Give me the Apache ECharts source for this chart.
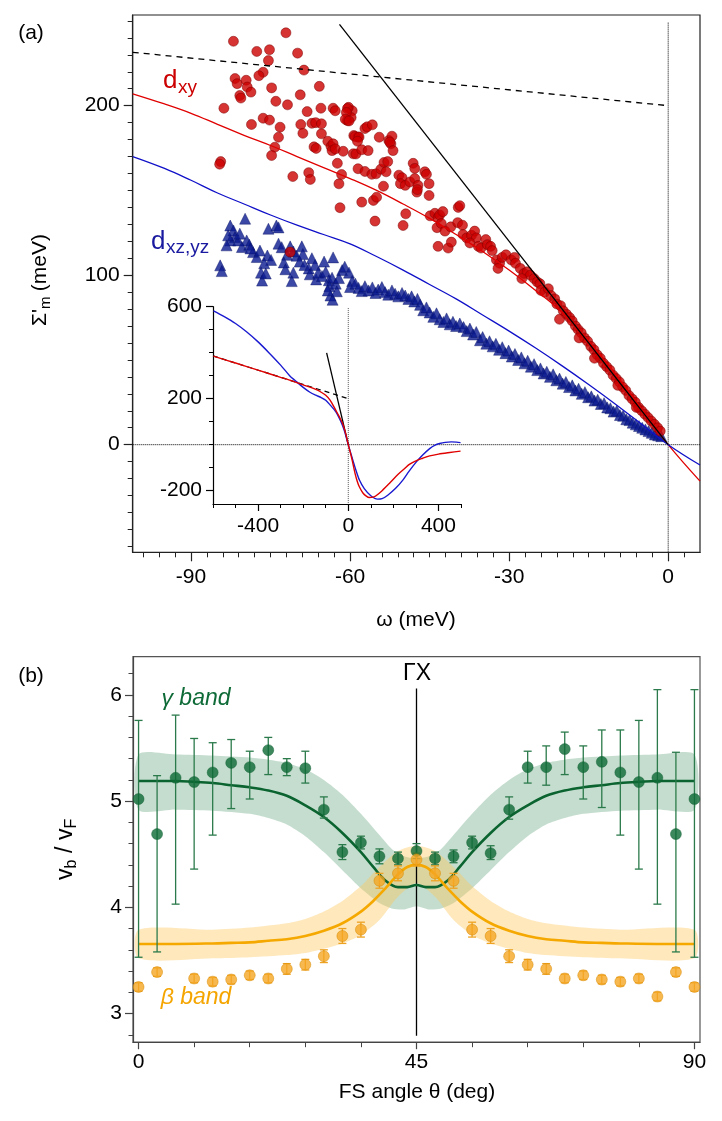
<!DOCTYPE html>
<html>
<head>
<meta charset="utf-8">
<script src="https://cdn.jsdelivr.net/npm/echarts@6/dist/echarts.min.js"></script>
<style>
html, body { margin: 0; padding: 0; background: #fff; }
#chart { width: 722px; height: 1121px; }
</style>
</head>
<body>
<div id="chart"></div>
<script>
// ---------- panel (a): self-energy vs omega ----------
var dxyPoints = [
  [-82.0,238],[-72.1,243],[-77.6,232],[-75.2,233],[-69.9,231],[-75.4,226.6],[-68.7,221],[-76.4,219.7],[-77.2,217.7],
  [-81.7,216],[-81.3,213],[-79.6,215],[-79.4,211],[-78.7,208],[-80.8,206],[-80.6,204.5],
  [-74.8,210.5],[-69.4,206.4],[-74.0,202.6],[-71.8,200.5],[-83.8,198.5],[-65.8,211.4],[-65.5,198.5],[-68.1,196.5],
  [-63.2,198.5],[-62.8,197],[-60.3,199],[-59.6,197],[-76.4,192.6],[-75.2,191.5],[-78.6,188.9],[-73.2,187.3],
  [-69.3,188.9],[-67.2,189.6],[-66.5,190],[-65.4,189.3],[-60.5,191.2],[-59.8,193],[-68.9,183.7],[-65.4,183.4],
  [-73.5,181.4],[-64.2,179],[-63.6,176],[-63.2,177.5],[-63.4,173.5],[-62.8,174.5],[-59.3,182.4],[-58.5,181.5],
  [-74.2,175.5],[-74.8,170.6],[-66.8,175.7],[-66.4,174.8],[-61.3,173.1],[-59.4,171.6],[-84.4,167],[-84.6,165.5],
  [-62.4,166],[-58.5,162.8],[-67.8,160.5],[-67.5,156.5],[-70.8,158.2],[-61.6,159.4],[-62.1,153.9],[-61.9,139.8],
  [-71.3,113.6],
  [-60.5,198.3],[-60.7,196],[-60.9,192],[-60.2,191],[-59.1,181.8],[-58.3,181.5],[-58.6,179],[-57.2,186.5],
  [-56.8,187.5],[-55.8,188.7],[-58.9,171.5],[-57.8,174],[-56.6,173.5],[-54.5,181.4],[-52.7,179.5],[-52.3,177.5],
  [-52.1,182],[-52.5,178.5],[-51.9,173.5],[-57.2,161.2],[-55.9,159.5],[-55.1,159.8],[-54.2,162.5],[-53.6,166.5],
  [-52.9,167],[-53.2,161],[-53.7,152.5],[-57.8,143.1],[-55.6,144.1],[-55.0,146],[-55.3,131.9],
  [-50.8,159],[-50.2,157.5],[-50.5,154],[-49.6,153],[-48.7,155],[-47.8,157],[-47.2,153],[-47.4,149],[-47.3,150.5],
  [-48.1,166],[-47.8,163],[-45.9,161],[-45.6,159.5],[-45.1,154],[-45.1,147],[-49.5,136.2],[-50.0,129.3],
  [-44.9,135],[-44.0,136.5],[-43.4,134],[-43.1,135.5],[-42.5,137.5],[-43.6,128],[-42.8,130.5],[-42.1,126],
  [-41.0,128.5],[-39.7,131],[-38.8,129.5],[-39.6,140],[-39.3,141],[-43.4,117],[-41.5,116],[-40.9,119.5],
  [-38.7,124],[-38.0,122],[-37.1,123.5],[-36.5,126],[-36.2,122],[-37.4,119],[-35.8,117],[-35.3,116],
  [-34.4,121],[-34.1,118],[-33.5,117],[-33.2,114.5],[-32.4,109],[-31.8,107],[-31.3,110.5],[-30.6,112],
  [-29.6,109],[-29.0,110.5],[-28.8,107],[-32.1,104],[-27.9,104],[-27.2,101],[-26.6,102],[-26.0,100],
  [-27.6,98],[-25.3,98],[-24.7,96],[-24.2,95],[-24.0,91],[-23.3,90],
  [-22.6,92],[-22.1,88],[-21.4,86],[-21.0,83],[-20.3,82],[-19.8,79],[-19.2,77],[-18.6,75],[-18.1,73],
  [-17.5,70],[-17.0,68],[-16.4,66],[-15.8,63],[-15.2,61],[-14.6,58],[-14.0,56],[-13.4,53],[-12.8,51],
  [-12.2,48],[-11.6,46],[-11.0,44],[-10.4,41],[-9.8,39],[-9.2,37],[-8.6,34],[-8.0,32],[-7.4,29],[-6.8,27],
  [-6.2,25],[-5.6,22],[-5.0,20],[-4.4,18],[-3.8,16],[-3.2,14],[-2.6,12],[-2.0,10],[-1.5,8],
  [-20.5,74],[-16.8,63],[-13.9,51],[-9.5,35],[-6.0,22]
];
var dxzPoints = [
  [-79.8,133.3],[-82.6,129.3],[-82.0,126.4],[-81.7,122.5],[-82.6,120.5],[-81.1,120.5],[-79.5,120.5],[-80.4,116.6],
  [-83.3,117.6],[-78.3,113.6],[-77.6,110.7],[-84.5,105.8],[-84.2,102.4],[-80.8,124.5],[-83.0,123.5],[-79.0,118],
  [-78.8,115.8],[-77.0,114.5],[-75.4,127.4],[-73.9,129.3],[-73.5,128.2],[-73.5,118.6],[-72.9,116.5],[-75.6,111.6],
  [-74.9,109],[-76.2,107],[-76.8,101.5],[-76.6,96.8],[-75.9,101],[-71.3,117],[-70.7,114],[-71.9,112],[-72.5,107.5],
  [-72.2,103.5],[-70.7,101.5],[-71.0,96.5],[-70.1,111.5],[-69.1,117],[-68.9,112.5],[-69.5,108],[-68.6,106],
  [-67.8,104],[-67.2,110],[-66.6,106],[-67.6,100.5],[-66.4,97.5],[-66.0,101.5],[-65.3,99.5],[-64.6,102],[-64.0,97],
  [-63.4,98.5],[-63.9,93.5],[-62.7,95],[-62.1,98.3],[-61.5,103],[-61.0,105],[-60.2,101.5],[-59.6,96.5],[-60.0,93],
  [-64.9,108],[-63.2,110.5],[-63.7,88],[-63.3,85.5],[-64.2,91],[-62.5,90.5],
  [-59.0,95],[-58.4,92.5],[-57.8,90.6],[-57.2,93.5],[-56.5,91],[-55.8,92.8],[-55.2,89.5],[-54.7,91.5],[-54.0,93],
  [-53.4,90],[-52.8,88.5],[-52.1,91],[-51.5,89],[-50.9,87.5],[-50.2,89.5],[-49.6,88],[-49.0,86],[-48.4,87.5],
  [-47.9,84.5],[-47.3,86],[-46.8,82.5],[-46.2,79.3],[-45.6,81],[-45.0,78],[-44.3,75.4],[-43.7,77.5],[-43.1,74],
  [-42.4,72.4],[-41.8,74.5],[-41.2,71],[-40.6,72.5],[-40.0,70],[-39.3,71.5],[-38.6,69.4],[-38.0,67],[-37.4,68.5],
  [-36.8,65],[-36.2,66.5],[-35.5,61.6],[-35.0,63.5],[-34.3,59.6],[-33.7,61],[-33.1,58],[-32.5,59.5],[-31.9,56],
  [-31.3,57.5],[-30.7,54],[-30.1,55.5],[-29.5,52],[-28.9,53.5],[-28.3,50],[-27.7,51.5],[-27.1,48],[-26.5,49.5],
  [-25.9,46],[-25.3,47.5],[-24.7,44],[-24.1,45],[-23.5,42],[-22.9,43],[-22.3,40],[-21.7,41.5],[-21.1,38],
  [-20.5,39],[-19.9,36],[-19.3,37],[-18.7,34],[-18.1,35],[-17.5,32],[-16.9,33],[-16.3,30],[-15.7,31],[-15.1,28],
  [-14.5,28.5],[-13.9,26],[-13.3,26.5],[-12.7,24],[-12.1,24.5],[-11.5,22],[-10.9,21.5],[-10.3,19.5],[-9.7,20],
  [-9.1,17.5],[-8.5,17],[-7.9,15],[-7.3,14.5],[-6.7,13],[-6.1,12],[-5.5,11],[-4.9,10],[-4.3,9],[-3.7,8],
  [-3.1,7],[-2.5,6],[-1.9,5.5],[-1.3,5]
];
var dxyFit = [[-101,207],[-95,201],[-90,195.5],[-85,189],[-80,182.5],[-75,176.5],[-70,170],[-65,163.5],[-60,157],
  [-55,150],[-50,142],[-45,133.5],[-40,124],[-35,114],[-30,103],[-25,91],[-20,78],[-15,61],[-10,42],[-5,21],[0,0],[6,-21.5]];
var dxzFit = [[-101,170],[-95,163],[-90,156],[-85,148.5],[-80,142],[-75,135.5],[-70,129.5],[-65,124],[-60,118.5],
  [-55,111],[-50,103],[-45,94.5],[-40,86],[-35,76.5],[-30,67],[-25,57],[-20,46.5],[-15,35.5],[-10,24],[-5,12],[0,0],[6,-12]];
var linearLine = [[-62,248],[0,0]];
var dashedLine = [[-101,231.5],[0,200]];
var zeroH = [[-101,0],[6,0]];
var zeroV = [[0,249],[0,-63.5]];

// inset
var insetRed = [[-598,385],[-500,355],[-400,324],[-300,293],[-237,273],[-200,260],[-170,250],[-144,240],[-120,228],
  [-100,215],[-80,193],[-55,149],[-40,122],[-25,92],[-12,50],[0,0],[10,-38],[19,-75],[30,-125],[40,-160],[49,-183],
  [65,-210],[80,-224],[93,-230],[110,-228],[123,-222],[150,-200],[182,-169],[220,-130],[250,-104],[271,-86],
  [300,-70],[330,-59],[361,-49],[400,-41],[450,-34],[498,-28]];
var insetBlue = [[-598,582],[-550,557],[-500,527],[-450,490],[-400,447],[-350,398],[-300,346],[-260,300],[-237,280],
  [-200,249],[-170,228],[-144,215],[-120,205],[-100,193],[-80,172],[-55,143],[-35,105],[-18,63],[0,0],[15,-50],
  [34,-111],[50,-155],[71,-191],[100,-222],[130,-237],[150,-235],[175,-220],[210,-190],[242,-154],[270,-115],
  [302,-75],[330,-45],[361,-17],[385,-2],[405,5],[430,10],[457,12],[480,11],[498,9]];
var insetLinear = [[-96,399],[0,0]];
var insetDashed = [[-600,386],[0,200]];
var insetZeroV = [[0,594],[0,-258]];

// ---------- panel (b): velocity ratio vs FS angle ----------
var gammaAngles = [0,3,6,9,12,15,18,21,24,27,30,33,36,39,42,45,48,51,54,57,60,63,66,69,72,75,78,81,84,87,90];
var gammaVals = [5.02,4.69,5.22,5.18,5.27,5.36,5.32,5.48,5.32,5.31,4.92,4.52,4.61,4.48,4.46,4.53,4.46,4.48,4.61,4.51,
  4.92,5.32,5.32,5.49,5.32,5.37,5.27,5.18,5.22,4.69,5.02];
var gammaLow = [3.53,3.58,4.03,4.36,4.68,4.93,5.02,5.25,5.24,5.17,4.84,4.45,4.55,4.41,4.40,4.46,4.40,4.42,4.55,4.45,
  4.83,5.17,5.15,5.25,5.02,4.94,4.68,4.36,4.03,3.58,3.53];
var gammaHigh = [5.76,5.24,5.81,5.59,5.55,5.58,5.47,5.60,5.40,5.47,5.04,4.59,4.67,4.55,4.52,4.60,4.52,4.54,4.67,4.58,
  5.04,5.47,5.52,5.65,5.52,5.67,5.67,5.76,6.05,5.46,6.05];

var betaAngles = [0,3,9,12,15,18,21,24,27,30,33,36,39,42,45,48,51,54,57,60,63,66,69,72,75,78,81,84,87,90];
var betaVals = [3.25,3.39,3.33,3.30,3.32,3.36,3.33,3.42,3.46,3.54,3.73,3.79,4.25,4.32,4.45,4.32,4.25,3.79,3.73,3.54,
  3.46,3.42,3.33,3.36,3.32,3.30,3.33,3.16,3.39,3.25];
var betaErr = [0.04,0.04,0.04,0.04,0.04,0.04,0.04,0.05,0.05,0.06,0.07,0.07,0.07,0.07,0.06,0.07,0.07,0.07,0.07,0.06,
  0.05,0.05,0.04,0.04,0.04,0.04,0.04,0.04,0.04,0.04];

var gammaFit = [[0,5.19],[6,5.19],[12,5.17],[15,5.15],[18,5.13],[21,5.10],[24,5.05],[27,4.96],[30,4.85],[33,4.70],
  [36,4.52],[38,4.38],[40,4.25],[42,4.19],[43.5,4.19],[45,4.21],[46.5,4.19],[48,4.19],[50,4.25],[52,4.38],[54,4.52],
  [57,4.70],[60,4.85],[63,4.96],[66,5.05],[69,5.10],[72,5.13],[75,5.15],[78,5.17],[84,5.19],[90,5.19]];
var betaFit = [[0,3.655],[6,3.655],[12,3.66],[15,3.665],[18,3.67],[21,3.685],[24,3.70],[27,3.73],[30,3.78],[33,3.85],
  [36,3.96],[38,4.06],[40,4.18],[42,4.31],[43.5,4.38],[45,4.40],[46.5,4.38],[48,4.31],[50,4.18],[52,4.06],[54,3.96],
  [57,3.85],[60,3.78],[63,3.73],[66,3.70],[69,3.685],[72,3.67],[75,3.665],[78,3.66],[84,3.655],[90,3.655]];

var gammaBandAngles = [0,6,12,18,21,24,27,30,33,36,39,41,43,45,47,49,51,54,57,60,63,66,69,72,78,84,90];
var gammaBandHigh = [5.44,5.44,5.43,5.41,5.39,5.36,5.30,5.20,5.06,4.88,4.68,4.55,4.48,4.46,4.48,4.55,4.68,4.88,5.06,
  5.20,5.30,5.36,5.39,5.41,5.43,5.44,5.44];
var gammaBandLow = [4.92,4.92,4.91,4.88,4.84,4.78,4.67,4.52,4.35,4.18,4.04,3.99,3.98,4.01,3.98,3.99,4.04,4.18,4.35,
  4.52,4.67,4.78,4.84,4.88,4.91,4.92,4.92];
var betaBandAngles = [0,12,18,24,27,30,33,36,39,42,45,48,51,54,57,60,63,66,72,78,90];
var betaBandHigh = [3.79,3.79,3.81,3.85,3.89,3.96,4.06,4.20,4.38,4.53,4.58,4.53,4.38,4.20,4.06,3.96,3.89,3.85,3.81,3.79,3.79];
var betaBandLow = [3.52,3.52,3.53,3.55,3.57,3.61,3.66,3.74,3.88,4.10,4.23,4.10,3.88,3.74,3.66,3.61,3.57,3.55,3.53,3.52,3.52];
var gammaXLine = [[45,2.79],[45,6.06]];

// tick values
var aMajorX = [-90,-60,-30,0];
var aMajorY = [0,100,200];
var insetMajorX = [-400,0,400];
var insetMajorY = [-200,200,600];
var bMajorX = [0,45,90];
var bMajorY = [3,4,5,6];

function range(a, b, step) {
  var out = [];
  for (var v = a; v <= b + step / 1000; v += step) out.push(Math.round(v * 1000) / 1000);
  return out;
}

var FONT = '"Liberation Sans", Arial, Helvetica, sans-serif';

function majorAxis(grid, pos, min, max, ticks, len, margin, color) {
  return {
    type: 'value', gridIndex: grid, position: pos, min: min, max: max,
    axisLine: { show: true, onZero: false, lineStyle: { color: color, width: 1.2 } },
    axisTick: { show: true, customValues: ticks, length: len, lineStyle: { color: color, width: 1.2 } },
    axisLabel: { show: true, customValues: ticks, margin: margin, fontSize: 21, fontFamily: FONT, color: '#000' },
    splitLine: { show: false }
  };
}
function minorAxis(grid, pos, min, max, ticks, len, color) {
  return {
    type: 'value', gridIndex: grid, position: pos, min: min, max: max,
    axisLine: { show: false, onZero: false },
    axisTick: { show: true, customValues: ticks, length: len, lineStyle: { color: color, width: 1 } },
    axisLabel: { show: false },
    splitLine: { show: false }
  };
}
function lineSeries(data, xi, color, width, type, z, smooth) {
  return {
    type: 'line', xAxisIndex: xi, yAxisIndex: xi, data: data, showSymbol: false, symbol: 'none',
    smooth: smooth || false, silent: true, z: z || 3,
    lineStyle: { color: color, width: width, type: type || 'solid' }
  };
}
function bandSeries(xs, lows, highs, fill) {
  return {
    type: 'custom', xAxisIndex: 4, yAxisIndex: 4, silent: true, z: 1,
    data: xs.map(function (x, i) { return [x, lows[i], highs[i]]; }),
    renderItem: function (params, api) {
      if (params.dataIndex !== 0) return null;
      var pts = [];
      for (var i = 0; i < xs.length; i++) pts.push(api.coord([xs[i], highs[i]]));
      for (var j = xs.length - 1; j >= 0; j--) pts.push(api.coord([xs[j], lows[j]]));
      return { type: 'polygon', shape: { points: pts, smooth: 0.25 }, style: { fill: fill } };
    }
  };
}
function errorSeries(xs, lows, highs, color) {
  return {
    type: 'custom', xAxisIndex: 4, yAxisIndex: 4, silent: true, z: 4,
    data: xs.map(function (x, i) { return [x, lows[i], highs[i]]; }),
    renderItem: function (params, api) {
      var lo = api.coord([api.value(0), api.value(1)]);
      var hi = api.coord([api.value(0), api.value(2)]);
      var w = 4;
      var st = { stroke: color, lineWidth: 1.3 };
      return { type: 'group', children: [
        { type: 'line', shape: { x1: lo[0], y1: lo[1], x2: hi[0], y2: hi[1] }, style: st },
        { type: 'line', shape: { x1: lo[0] - w, y1: lo[1], x2: lo[0] + w, y2: lo[1] }, style: st },
        { type: 'line', shape: { x1: hi[0] - w, y1: hi[1], x2: hi[0] + w, y2: hi[1] }, style: st }
      ] };
    }
  };
}
function txt(x, y, text, size, color, align, italic) {
  return {
    type: 'text', x: x, y: y, silent: true,
    style: {
      text: text, fontSize: size, fontFamily: FONT, fontStyle: italic ? 'italic' : 'normal', fill: color,
      textAlign: align || 'center', align: align || 'center', textVerticalAlign: 'middle', verticalAlign: 'middle'
    }
  };
}

var chart = echarts.init(document.getElementById('chart'), null, { renderer: 'canvas' });

var option = {
  animation: false,
  backgroundColor: '#fff',
  grid: [
    { left: 132.7, top: 15, width: 567.3, height: 537.3, show: true, borderColor: '#222', borderWidth: 1.2, backgroundColor: 'transparent' },
    { left: 213, top: 306.7, width: 248, height: 197.3, show: false },
    { left: 133, top: 656.7, width: 567, height: 385.5, show: true, borderColor: '#555', borderWidth: 1.2, backgroundColor: 'transparent' }
  ],
  xAxis: [
    majorAxis(0, 'bottom', -101, 6, aMajorX, 9, 14, '#222'),
    minorAxis(0, 'bottom', -101, 6, range(-99, 3, 3), 5, '#222'),
    majorAxis(1, 'bottom', -600, 500, insetMajorX, 7, 12, '#000'),
    minorAxis(1, 'bottom', -600, 500, range(-600, 500, 100), 4, '#000'),
    majorAxis(2, 'bottom', -0.9, 90.9, bMajorX, 7, 10, '#444'),
    minorAxis(2, 'bottom', -0.9, 90.9, range(0, 90, 9), 5, '#444')
  ],
  yAxis: [
    majorAxis(0, 'left', -63.5, 253.5, aMajorY, 9, 13, '#222'),
    minorAxis(0, 'left', -63.5, 253.5, range(-60, 250, 10), 5, '#222'),
    majorAxis(1, 'left', -258, 600, insetMajorY, 7, 11, '#000'),
    minorAxis(1, 'left', -258, 600, range(-200, 600, 100), 4, '#000'),
    majorAxis(2, 'left', 2.73, 6.36, bMajorY, 8, 11, '#444'),
    minorAxis(2, 'left', 2.73, 6.36, range(2.8, 6.2, 0.2), 4.5, '#444')
  ],
  series: [
    // panel (a)
    lineSeries(zeroH, 0, '#000', 1, 'dotted', 2),
    lineSeries(zeroV, 0, '#000', 1, 'dotted', 2),
    {
      type: 'scatter', xAxisIndex: 0, yAxisIndex: 0, data: dxzPoints, symbol: 'triangle', symbolSize: 11,
      itemStyle: { color: '#0b1a90', borderColor: '#06105e', borderWidth: 0.5 }, z: 3, silent: true
    },
    {
      type: 'scatter', xAxisIndex: 0, yAxisIndex: 0, data: dxyPoints, symbol: 'circle', symbolSize: 10,
      itemStyle: { color: '#cc0000', borderColor: '#7a0000', borderWidth: 0.6 }, z: 3, silent: true
    },
    lineSeries(dxyFit, 0, '#e00000', 1.3, 'solid', 4, 0.4),
    lineSeries(dxzFit, 0, '#1010c8', 1.3, 'solid', 4, 0.4),
    lineSeries(linearLine, 0, '#000', 1.3, 'solid', 4),
    lineSeries(dashedLine, 0, '#000', 1.3, [6, 5], 4),
    // inset
    lineSeries(insetZeroV, 2, '#555', 1, 'dotted', 2),
    lineSeries(insetDashed, 2, '#000', 1.2, [5, 4], 3),
    lineSeries(insetLinear, 2, '#000', 1.3, 'solid', 3),
    lineSeries(insetBlue, 2, '#1a1ad0', 1.4, 'solid', 4, 0.3),
    lineSeries(insetRed, 2, '#e00000', 1.4, 'solid', 4, 0.3),
    // panel (b)
    bandSeries(gammaBandAngles, gammaBandLow, gammaBandHigh, 'rgba(115,175,138,0.42)'),
    bandSeries(betaBandAngles, betaBandLow, betaBandHigh, 'rgba(252,200,95,0.42)'),
    lineSeries(gammaXLine, 4, '#000', 1.3, 'solid', 2),
    lineSeries(gammaFit, 4, '#0b6430', 2.6, 'solid', 3, 0.35),
    lineSeries(betaFit, 4, '#f5a800', 2.6, 'solid', 3, 0.35),
    errorSeries(gammaAngles, gammaLow, gammaHigh, '#2b7a4b'),
    errorSeries(betaAngles, betaVals.map(function (v, i) { return v - betaErr[i]; }),
      betaVals.map(function (v, i) { return v + betaErr[i]; }), '#eea221'),
    {
      type: 'scatter', xAxisIndex: 4, yAxisIndex: 4, symbol: 'circle', symbolSize: 11, silent: true, z: 5,
      data: gammaAngles.map(function (a, i) { return [a, gammaVals[i]]; }),
      itemStyle: { color: '#0e6a36', borderColor: '#0a5a2c', borderWidth: 0.5 }
    },
    {
      type: 'scatter', xAxisIndex: 4, yAxisIndex: 4, symbol: 'circle', symbolSize: 11, silent: true, z: 5,
      data: betaAngles.map(function (a, i) { return [a, betaVals[i]]; }),
      itemStyle: { color: '#f5a623', borderColor: '#d58a00', borderWidth: 0.6 }
    }
  ],
  graphic: [
    txt(31, 33, '(a)', 21, '#000'),
    txt(31, 676, '(b)', 21, '#000'),
    txt(163, 81, 'd', 26, '#cc0000', 'left'),
    txt(178, 88, 'xy', 19, '#cc0000', 'left'),
    txt(151, 242, 'd', 26, '#1a1aa0', 'left'),
    txt(166, 248, 'xz,yz', 19, '#1a1aa0', 'left'),
    txt(416, 620, 'ω (meV)', 21, '#000'),
    txt(417, 1092, 'FS angle θ (deg)', 21, '#000'),
    txt(417, 674, 'ΓX', 23, '#000'),
    txt(196, 699, 'γ band', 23, '#0e6b37', 'center', true),
    txt(196, 998, 'β band', 23, '#f5a500', 'center', true),
    {
      type: 'group', x: 40, y: 280, rotation: Math.PI / 2, silent: true,
      children: [
        txt(-46, 0, "Σ'", 21, '#000', 'left'),
        txt(-29, 6, 'm', 15, '#000', 'left'),
        txt(-17, 0, ' (meV)', 21, '#000', 'left')
      ]
    },
    {
      type: 'group', x: 66, y: 849, rotation: Math.PI / 2, silent: true,
      children: [
        txt(-31, 0, 'v', 23, '#000', 'left'),
        txt(-19.5, 6, 'b', 16, '#000', 'left'),
        txt(-10.5, 0, ' / ', 23, '#000', 'left'),
        txt(9, 0, 'v', 23, '#000', 'left'),
        txt(20.5, 6, 'F', 16, '#000', 'left')
      ]
    }
  ]
};

chart.setOption(option);
</script>
</body>
</html>
